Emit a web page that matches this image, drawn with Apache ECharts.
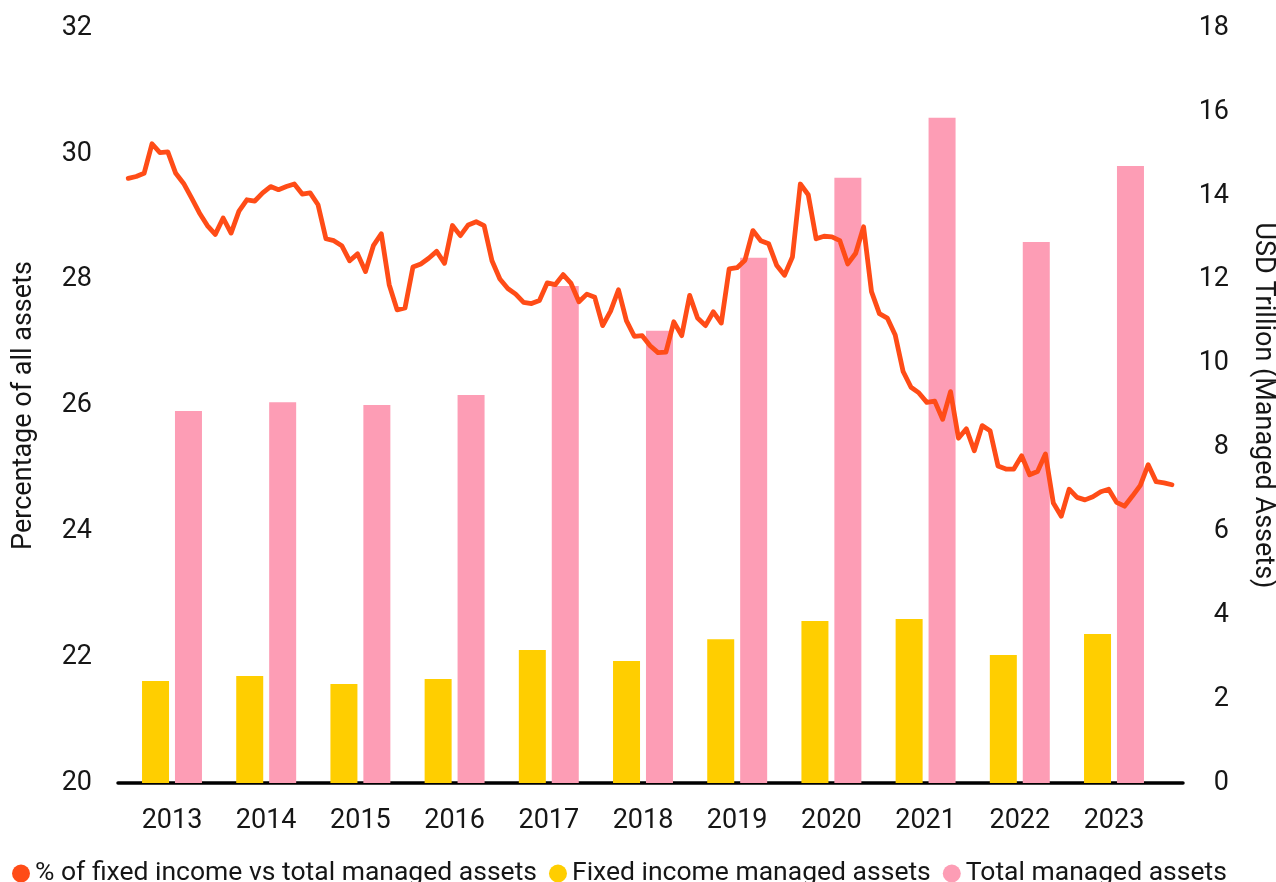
<!DOCTYPE html>
<html>
<head>
<meta charset="utf-8">
<title>Fixed income share of managed assets</title>
<script src="https://cdn.jsdelivr.net/npm/echarts@6/dist/echarts.min.js"></script>
<style>
  html, body { margin: 0; padding: 0; background: #fff; }
  #chart { width: 1276px; height: 882px; }
</style>
</head>
<body>
<div id="chart"></div>
<script>
  // yearly bars (USD trillion, right axis)
  const years = ['2013', '2014', '2015', '2016', '2017', '2018', '2019', '2020', '2021', '2022', '2023']
  const fixedIncomeAssets = [2.43, 2.55, 2.36, 2.48, 3.17, 2.91, 3.43, 3.86, 3.91, 3.05, 3.55]
  const totalAssets = [8.87, 9.08, 9.01, 9.25, 11.85, 10.78, 12.52, 14.43, 15.86, 12.90, 14.71]

  // monthly share, Jan 2013 onwards (% , left axis)
  const fixedIncomeShare = [
    29.61, 29.64, 29.69, 30.16, 30.02, 30.03, 29.69, 29.53, 29.30, 29.06, 28.86, 28.72,
    28.98, 28.74, 29.09, 29.27, 29.25, 29.38, 29.48, 29.43, 29.48, 29.52, 29.36, 29.38,
    29.19, 28.65, 28.62, 28.54, 28.30, 28.41, 28.13, 28.54, 28.73, 27.92, 27.52, 27.55,
    28.20, 28.25, 28.34, 28.45, 28.26, 28.86, 28.70, 28.87, 28.92, 28.86, 28.30, 28.01,
    27.86, 27.77, 27.64, 27.62, 27.67, 27.95, 27.92, 28.08, 27.94, 27.65, 27.77, 27.72,
    27.27, 27.50, 27.84, 27.35, 27.10, 27.11, 26.95, 26.84, 26.85, 27.33, 27.11, 27.75,
    27.39, 27.27, 27.49, 27.31, 28.17, 28.19, 28.31, 28.78, 28.62, 28.57, 28.23, 28.07,
    28.36, 29.52, 29.35, 28.65, 28.69, 28.68, 28.62, 28.25, 28.42, 28.84, 27.81, 27.46,
    27.39, 27.12, 26.54, 26.29, 26.20, 26.05, 26.07, 25.78, 26.22, 25.48, 25.63, 25.28,
    25.68, 25.60, 25.04, 24.99, 24.99, 25.20, 24.90, 24.95, 25.23, 24.45, 24.24, 24.67,
    24.54, 24.50, 24.55, 24.63, 24.67, 24.46, 24.40, 24.56, 24.73, 25.06, 24.79, 24.77,
    24.74
  ]

  const colors = ['#ff4c17', '#ffce00', '#fd9db5']
  const textColor = '#161616'
  const fontFamily = 'Roboto, "Noto Sans", sans-serif'

  const chart = echarts.init(document.getElementById('chart'), null, { renderer: 'canvas' })

  chart.setOption({
    animation: false,
    color: colors,
    textStyle: { fontFamily: fontFamily, color: textColor },
    legend: {
      left: 7,
      top: 855,
      icon: 'circle',
      itemWidth: 18,
      itemHeight: 18,
      itemGap: 12,
      textStyle: { fontSize: 26.5, color: textColor, fontFamily: fontFamily },
      data: ['% of fixed income vs total managed assets', 'Fixed income managed assets', 'Total managed assets']
    },
    grid: [
      // bars
      { left: 124.9, right: 114.9, top: 28, bottom: 99, outerBoundsMode: 'none', containLabel: false },
      // line + visible axes
      { left: 118, right: 93, top: 28, bottom: 99, outerBoundsMode: 'none', containLabel: false }
    ],
    xAxis: [
      {
        type: 'category',
        gridIndex: 0,
        data: years,
        axisLine: { show: false },
        axisTick: { show: false },
        axisLabel: { fontSize: 27, color: textColor, margin: 25, fontFamily: fontFamily }
      },
      {
        type: 'value',
        gridIndex: 1,
        min: -1.3,
        max: 133.4,
        axisLine: { show: true, onZero: false, lineStyle: { color: '#000', width: 3.5 } },
        axisTick: { show: false },
        axisLabel: { show: false },
        splitLine: { show: false }
      }
    ],
    yAxis: [
      { type: 'value', gridIndex: 0, min: 0, max: 18, show: false },
      {
        type: 'value',
        gridIndex: 1,
        position: 'left',
        min: 20,
        max: 32,
        interval: 2,
        name: 'Percentage of all assets',
        nameLocation: 'middle',
        nameGap: 80,
        nameTextStyle: { fontSize: 27, color: textColor, fontFamily: fontFamily },
        axisLine: { show: false },
        axisTick: { show: false },
        splitLine: { show: false },
        axisLabel: { fontSize: 27, color: textColor, margin: 26, fontFamily: fontFamily }
      },
      {
        type: 'value',
        gridIndex: 1,
        position: 'right',
        min: 0,
        max: 18,
        interval: 2,
        name: 'USD Trillion (Managed Assets)',
        nameLocation: 'middle',
        nameRotate: -90,
        nameGap: 66,
        nameTextStyle: { fontSize: 27, color: textColor, fontFamily: fontFamily },
        axisLine: { show: false },
        axisTick: { show: false },
        splitLine: { show: false },
        axisLabel: { fontSize: 27, color: textColor, margin: 46, align: 'right', fontFamily: fontFamily }
      }
    ],
    series: [
      {
        name: '% of fixed income vs total managed assets',
        type: 'line',
        xAxisIndex: 1,
        yAxisIndex: 1,
        z: 4,
        symbol: 'none',
        lineStyle: { width: 4.8, color: colors[0], cap: 'round', join: 'round' },
        itemStyle: { color: colors[0] },
        data: fixedIncomeShare.map(function (v, i) { return [i, v] })
      },
      {
        name: 'Fixed income managed assets',
        type: 'bar',
        xAxisIndex: 0,
        yAxisIndex: 0,
        barWidth: 27,
        barGap: '22%',
        itemStyle: { color: colors[1] },
        data: fixedIncomeAssets
      },
      {
        name: 'Total managed assets',
        type: 'bar',
        xAxisIndex: 0,
        yAxisIndex: 0,
        barWidth: 27,
        barGap: '22%',
        itemStyle: { color: colors[2] },
        data: totalAssets
      }
    ]
  })
</script>
</body>
</html>
